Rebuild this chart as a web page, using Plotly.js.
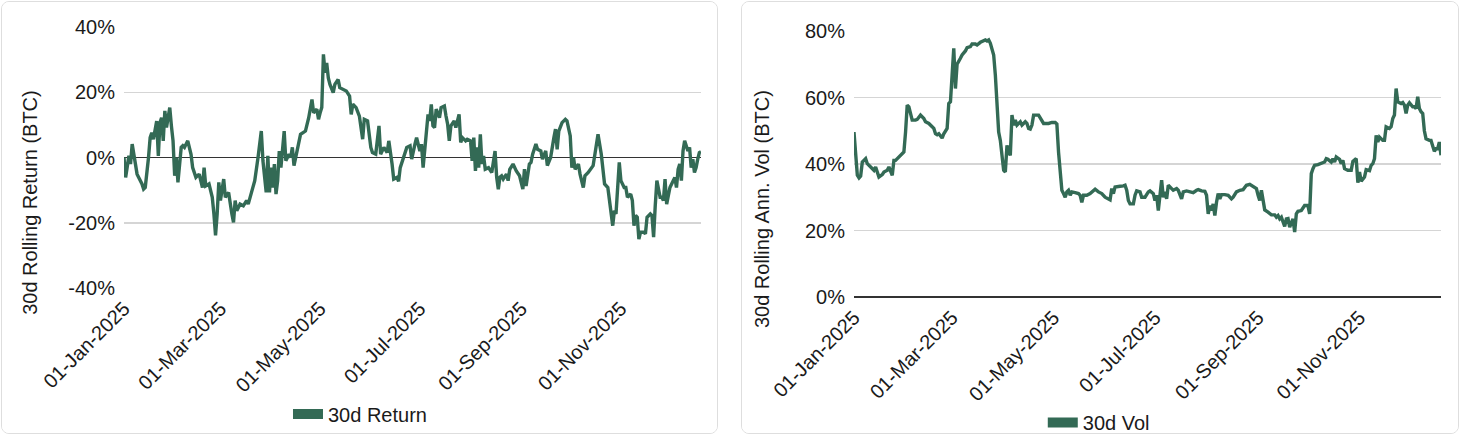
<!DOCTYPE html>
<html><head><meta charset="utf-8">
<script src="https://cdn.plot.ly/plotly-3.0.1.min.js"></script>
<style>
html,body{margin:0;padding:0;background:#fff;width:1460px;height:436px;overflow:hidden;}
.card{position:absolute;box-sizing:border-box;border:1px solid #dedede;border-radius:8px;background:#fff;overflow:hidden;}
#c1{left:1px;top:1px;width:717px;height:433px;}
#c2{left:741px;top:1px;width:718px;height:433px;}
</style></head>
<body>
<div class="card" id="c1"><div id="p1"></div></div>
<div class="card" id="c2"><div id="p2"></div></div>
<script>
const YEAR = '2025';

// 30d rolling return (%), BTC
const retDates = [
'01-01','01-02','01-04','01-05','01-06','01-09','01-10','01-12','01-13','01-14','01-16','01-17','01-18','01-19','01-21','01-22','01-23','01-24','01-25','01-26','01-27','01-28','01-29','01-30','01-31',
'02-01','02-02','02-03','02-05','02-06','02-07','02-09','02-11','02-12','02-14','02-16','02-18','02-19','02-20','02-22','02-24','02-25','02-26','02-27','02-28',
'03-01','03-03','03-04','03-06','03-08','03-09','03-10','03-11','03-13','03-15','03-17','03-18','03-20','03-22','03-24','03-26','03-27','03-28','03-29','03-30','03-31',
'04-01','04-02','04-03','04-04','04-05','04-06','04-07','04-08','04-09','04-10','04-12','04-13','04-14','04-15','04-18','04-19','04-22','04-24','04-26','04-27','04-29','04-30',
'05-01','05-02','05-03','05-04','05-05','05-06','05-07','05-09','05-10','05-12','05-13','05-15','05-17','05-19','05-20','05-21','05-23','05-25','05-27','05-28','05-30',
'06-01','06-02','06-04','06-06','06-07','06-09','06-11','06-12','06-14','06-15','06-17','06-18','06-19','06-21','06-23','06-25','06-26','06-28','06-29',
'07-01','07-02','07-03','07-04','07-06','07-07','07-08','07-09','07-10','07-11','07-13','07-14','07-16','07-17','07-18','07-19','07-20','07-22','07-23','07-25','07-26','07-27','07-29','07-30',
'08-01','08-02','08-03','08-04','08-05','08-06','08-07','08-08','08-09','08-10','08-12','08-14','08-16','08-17','08-18','08-19','08-20','08-21','08-23','08-24','08-25','08-27','08-29','08-31',
'09-02','09-03','09-04','09-06','09-07','09-08','09-10','09-11','09-13','09-14','09-16','09-17','09-19','09-21','09-22','09-23','09-24','09-26','09-28','09-29','09-30',
'10-01','10-02','10-03','10-04','10-06','10-07','10-09','10-10','10-12','10-15','10-16','10-18','10-20','10-21','10-22','10-24','10-25','10-27','10-28','10-29','10-31',
'11-01','11-03','11-04','11-05','11-07','11-08','11-09','11-10','11-11','11-12','11-13','11-15','11-16','11-17','11-19','11-20','11-21','11-22','11-23','11-25','11-26','11-27','11-28','11-29',
'12-01','12-03','12-04','12-05','12-06','12-07','12-08','12-09','12-10','12-12','12-13','12-14','12-15','12-16','12-17','12-18','12-19','12-20'
];
const retValues = [
0.0,-6.1,0.5,-2.0,4.1,-5.1,-6.1,-8.1,-9.7,-9.2,0.0,6.1,7.6,5.6,11.2,0.5,10.7,12.2,5.1,14.3,9.2,11.7,15.3,9.7,5.1,
-5.6,0.0,-7.6,3.1,3.6,3.1,5.1,1.0,-3.1,-6.1,-5.1,-9.2,-3.1,-8.7,-8.1,-12.2,-17.3,-23.9,-17.3,-7.6,
-13.2,-6.6,-12.2,-10.7,-17.3,-19.9,-13.2,-16.3,-14.3,-14.8,-13.2,-14.3,-10.7,-7.1,0.0,8.1,-1.0,-5.1,-10.7,0.5,-10.7,
-3.1,-9.2,-2.0,-11.2,-7.1,2.0,-3.1,2.5,8.1,-1.0,1.0,0.0,3.1,-2.5,5.1,7.1,8.1,12.2,17.8,13.7,14.8,11.7,
13.7,15.3,31.6,26.0,29.0,24.4,22.4,19.9,22.4,23.9,21.4,20.9,20.4,18.8,13.2,16.3,15.3,12.7,5.6,11.7,11.2,
3.1,1.5,1.0,9.7,1.0,3.1,1.5,5.1,-2.0,-6.6,-6.1,-7.3,-3.1,0.0,3.1,3.6,-0.5,4.1,6.1,
2.0,4.1,-3.1,3.1,13.2,11.2,16.3,9.7,9.2,14.8,12.2,15.3,15.8,12.7,10.2,5.1,9.7,11.2,9.2,13.2,4.6,6.1,5.1,5.6,
5.1,-1.0,6.1,-4.1,3.1,-3.1,7.1,-2.0,0.5,-3.6,-3.1,-4.6,2.0,-6.1,-9.7,-6.0,-5.6,-6.6,-5.1,-7.1,-3.6,-2.0,-4.1,-5.6,
-9.7,-3.6,-8.7,-2.0,-1.5,1.0,4.1,2.5,2.0,-0.5,2.0,-2.5,0.0,6.1,8.7,2.5,8.1,10.7,11.7,11.2,8.1,
6.6,-3.1,0.0,-3.6,-2.0,-5.1,-9.2,-5.6,-4.6,-2.5,1.0,7.1,1.0,-3.1,-8.1,-9.2,-13.2,-20.9,-16.3,-17.3,-1.5,
-7.1,-9.2,-9.2,-12.2,-11.2,-13.2,-20.9,-17.8,-18.3,-25.0,-22.9,-22.9,-23.4,-18.3,-17.3,-17.8,-24.4,-14.8,-7.1,-12.2,-12.2,-13.2,-6.6,-14.3,
-9.2,-7.1,-6.1,-9.2,-3.6,-2.0,-7.1,2.0,5.1,2.0,3.1,-3.1,-0.5,-4.6,-3.1,-0.5,1.5,1.8
];

// 30d rolling annualised volatility (%), BTC
const volDates = [
'01-01','01-03','01-04','01-05','01-06','01-08','01-09','01-10','01-11','01-13','01-14','01-15','01-16','01-18','01-19','01-21','01-22','01-24','01-25','01-26','01-28','01-29','01-31',
'02-01','02-02','02-03','02-05','02-07','02-08','02-10','02-12','02-13','02-15','02-17','02-18','02-19','02-20','02-21','02-23','02-24','02-26','02-27','02-28',
'03-01','03-02','03-03','03-04','03-06','03-07','03-09','03-10','03-12','03-13','03-15','03-16','03-18','03-19','03-21','03-22','03-23','03-24','03-25','03-26','03-27','03-28','03-29','03-30','03-31',
'04-01','04-02','04-03','04-04','04-05','04-06','04-07','04-08','04-09','04-11','04-12','04-14','04-15','04-16','04-17','04-18','04-19','04-22','04-24','04-25','04-28','04-30',
'05-02','05-03','05-04','05-05','05-06','05-07','05-08','05-09','05-10','05-11','05-12','05-14','05-16','05-17','05-18','05-19','05-21','05-23','05-25','05-26','05-28','05-30',
'06-01','06-03','06-04','06-05','06-06','06-07','06-09','06-10','06-12','06-13','06-14','06-15','06-16','06-18','06-19','06-20','06-22','06-23','06-25','06-27','06-28','06-30',
'07-01','07-02','07-03','07-04','07-05','07-06','07-07','07-08','07-09','07-11','07-12','07-14','07-15','07-17','07-18','07-20','07-22','07-24','07-26','07-27','07-29','07-31',
'08-01','08-02','08-03','08-04','08-05','08-06','08-07','08-08','08-09','08-10','08-12','08-14','08-16','08-17','08-19','08-21','08-23','08-25','08-27','08-28','08-30','08-31',
'09-01','09-02','09-03','09-04','09-05','09-07','09-09','09-11','09-12','09-13','09-14','09-15','09-16','09-17','09-18','09-19','09-20','09-21','09-22','09-23','09-24','09-25','09-27','09-29',
'10-01','10-02','10-03','10-04','10-05','10-07','10-09','10-11','10-12','10-13','10-15','10-16','10-17','10-18','10-20','10-21','10-22','10-23','10-25','10-27','10-28','10-30','10-31',
'11-01','11-02','11-04','11-05','11-07','11-08','11-09','11-10','11-11','11-12','11-13','11-15','11-16','11-17','11-19','11-20','11-21','11-22','11-23','11-24','11-26','11-27','11-28','11-29','11-30',
'12-01','12-03','12-04','12-05','12-06','12-07','12-08','12-09','12-10','12-11','12-13','12-14','12-16','12-17','12-18','12-19','12-20'
];
const volValues = [
49.6,36.6,35.8,36.4,40.6,41.6,40.1,39.6,38.8,38.1,39.1,37.6,36.1,36.8,37.6,38.1,39.1,36.6,41.1,41.1,42.1,42.6,43.6,
49.6,57.7,57.2,53.2,53.2,53.4,54.7,53.7,52.7,52.2,51.2,50.7,49.1,48.8,49.1,47.8,49.1,50.7,58.2,58.7,
66.7,74.8,62.7,70.0,71.8,72.8,74.0,75.0,75.3,76.1,76.1,75.8,76.6,76.8,77.3,77.0,77.3,76.3,74.8,72.8,66.7,57.7,49.6,47.1,41.6,
38.1,37.6,45.6,43.6,42.6,54.7,51.7,53.2,51.7,52.7,51.7,52.7,52.2,50.7,50.5,51.7,54.7,54.7,53.2,52.2,52.2,52.5,
52.5,52.0,43.6,36.0,32.1,31.1,30.0,31.6,32.1,30.6,31.6,31.4,31.1,30.6,28.5,30.6,30.6,31.1,32.1,32.4,31.6,31.1,
30.0,29.5,29.2,32.6,31.1,33.1,33.1,33.3,33.4,33.6,32.1,29.0,28.0,28.0,30.6,31.9,31.6,30.0,30.0,31.6,31.9,31.1,
29.0,30.6,26.0,30.6,35.1,30.0,31.6,29.5,33.6,32.6,32.1,32.6,32.1,29.5,31.6,31.9,31.6,31.4,32.1,32.3,31.9,31.8,
30.6,25.0,27.5,26.0,28.0,24.5,28.5,31.1,29.5,30.8,30.8,30.6,29.5,30.0,31.6,32.1,32.3,33.6,33.9,33.6,32.8,32.6,
30.6,29.0,32.1,28.5,26.2,25.5,24.7,24.7,24.0,24.5,23.5,24.0,22.5,21.2,23.5,23.6,21.0,22.5,23.5,19.5,25.0,25.8,26.0,27.5,
27.5,25.0,37.1,38.6,39.6,39.8,40.1,40.6,41.6,41.4,40.6,41.6,40.6,42.1,41.4,40.1,41.1,38.6,38.1,38.1,40.8,41.6,34.4,
37.6,34.8,36.1,38.3,38.0,39.6,40.1,41.6,48.6,46.6,48.1,47.1,47.1,51.2,50.7,51.2,53.7,54.7,62.7,58.7,58.2,58.5,57.7,55.2,57.7,
58.4,57.2,57.2,56.7,60.2,56.7,55.7,55.2,50.0,47.6,47.1,47.1,43.8,44.6,44.6,46.6,42.6
];

const retTickVals = [-40, -20, 0, 20, 40];
const retTickText = ['-40%', '-20%', '0%', '20%', '40%'];
const volTickVals = [0, 20, 40, 60, 80];
const volTickText = ['0%', '20%', '40%', '60%', '80%'];

const LINE = '#336a55';
const FONT = '"Liberation Sans", Arial, Helvetica, sans-serif';
const TXT = '#1a1a1a';

function traces(dates, values, name) {
  const x = dates.map(d => YEAR + '-' + d);
  return [
    {x: x, y: values, type: 'scatter', mode: 'lines', name: name, showlegend: false,
     line: {color: LINE, width: 3.4}, hoverinfo: 'skip'},
    {x: [null], y: [null], type: 'scatter', mode: 'lines', name: name, showlegend: true,
     line: {color: LINE, width: 10}}
  ];
}

function layout(o) {
  return {
    width: o.w, height: 431,
    margin: Object.assign({autoexpand: false}, o.m),
    paper_bgcolor: '#ffffff', plot_bgcolor: '#ffffff',
    font: {family: FONT, size: 20, color: TXT},
    showlegend: true,
    legend: {orientation: 'h', x: o.lx, xanchor: 'center', y: o.ly, yanchor: 'middle',
             font: {size: 20, color: TXT}, itemwidth: 30, bgcolor: 'rgba(0,0,0,0)'},
    xaxis: {type: 'date', tickformat: '%d-%b-%Y', dtick: 'M2', tick0: YEAR + '-01-01',
            tickangle: -45, showgrid: false, zeroline: false, showline: false, ticks: '',
            ticklabelstandoff: 4, automargin: false, tickfont: {size: 20, color: TXT}},
    yaxis: {range: o.range, tickvals: o.tv, ticktext: o.tt, showgrid: true,
            gridcolor: '#d5d5d5', gridwidth: 1.5, zeroline: true, zerolinecolor: '#333333',
            zerolinewidth: 1.5, showline: false, ticks: '', ticklabelstandoff: 8, automargin: false,
            tickfont: {size: 20, color: TXT}},
    annotations: [{text: o.title, xref: 'paper', yref: 'paper', x: o.tx, y: o.ty,
                   xanchor: 'center', yanchor: 'middle', textangle: -90, showarrow: false,
                   font: {size: 20, color: TXT}}],
    hovermode: false
  };
}

Plotly.newPlot('p1', traces(retDates, retValues, '30d Return'),
  layout({w: 715, m: {l: 122, r: 16, t: 25, b: 145, pad: 0}, range: [-40, 40],
          tv: retTickVals, tt: retTickText, title: '30d Rolling Return (BTC)',
          tx: -0.163, ty: 0.33, lx: 0.409, ly: -0.483}),
  {staticPlot: true, displayModeBar: false});

Plotly.newPlot('p2', traces(volDates, volValues, '30d Vol'),
  layout({w: 716, m: {l: 112, r: 17, t: 29, b: 136, pad: 0}, range: [0, 80],
          tv: volTickVals, tt: volTickText, title: '30d Rolling Ann. Vol (BTC)',
          tx: -0.157, ty: 0.33, lx: 0.417, ly: -0.472}),
  {staticPlot: true, displayModeBar: false});
</script>
</body></html>
